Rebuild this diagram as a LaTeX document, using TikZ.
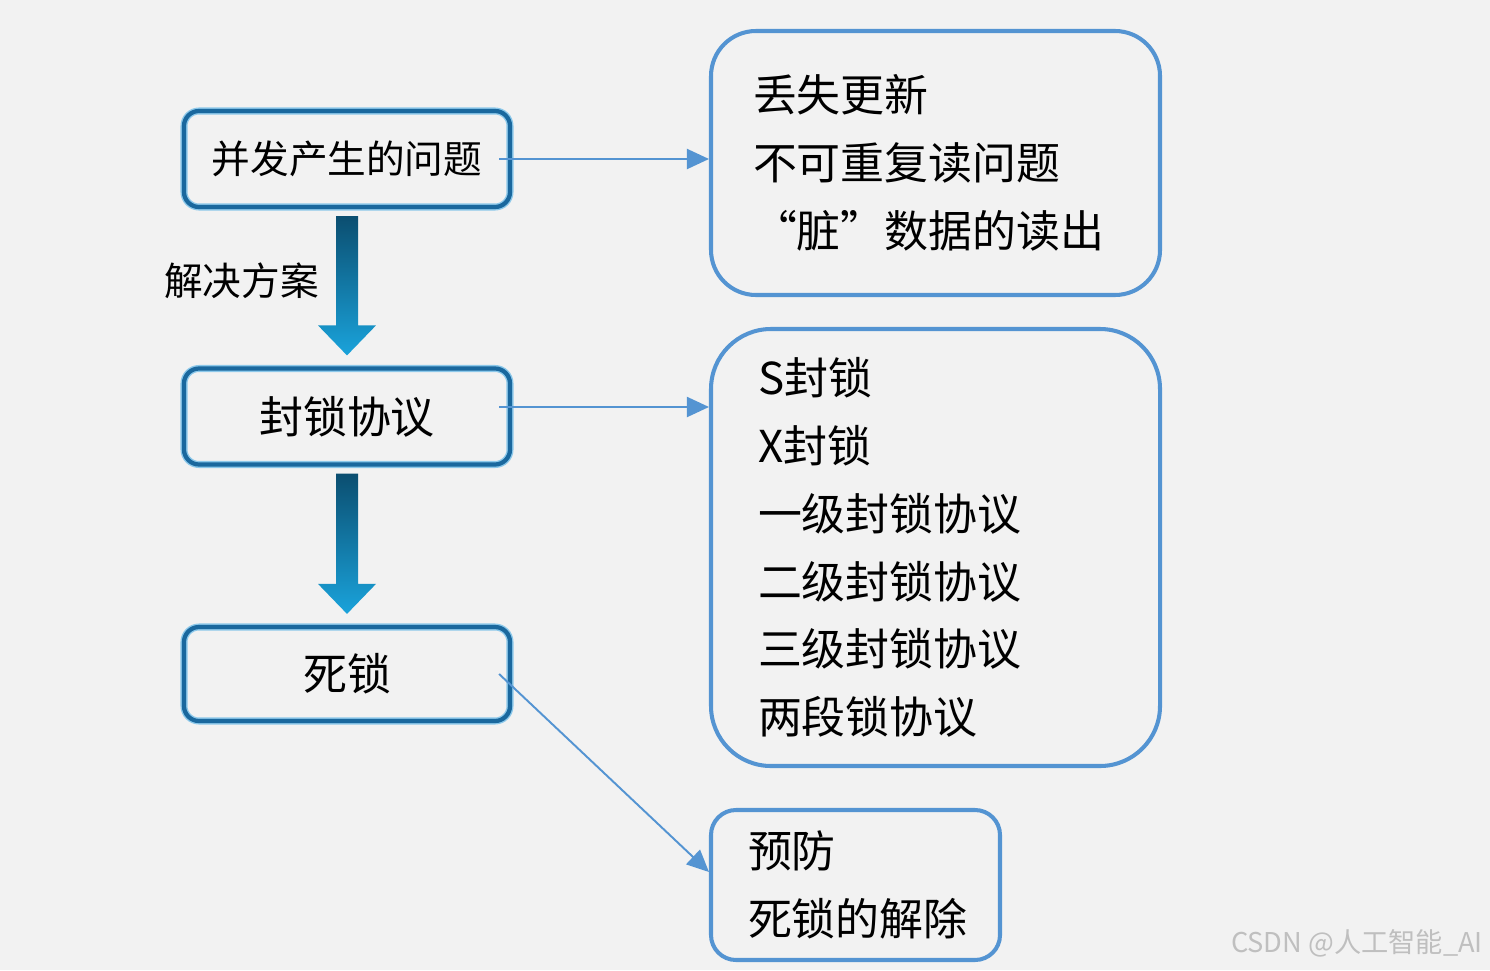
\documentclass[tikz,border=0pt]{standalone}
\usepackage{fontspec}
\setmainfont{Noto Sans CJK SC}
\newfontfamily\fullquote[CharacterWidth=Full]{Noto Sans CJK SC}
\usepackage{tikz}
\usetikzlibrary{arrows.meta, positioning, calc}
\definecolor{pagegray}{RGB}{242,242,242}
\definecolor{stepblue}{RGB}{26,104,158}
\definecolor{glowblue}{RGB}{140,200,234}
\definecolor{listblue}{RGB}{84,148,210}
\definecolor{arrowtop}{RGB}{11,78,112}
\definecolor{arrowbot}{RGB}{26,163,219}

% thick shaded arrow between two stacked boxes
\newcommand{\fatarrow}[2]{%
  \shade[top color=arrowtop, bottom color=arrowbot]
    ($(#1.south)+(-0.22,-0.14)$) -- ($(#2.north)+(-0.22,0.82)$)
    -- ($(#2.north)+(-0.58,0.82)$) -- ($(#2.north)+(0,0.22)$)
    -- ($(#2.north)+(0.58,0.82)$) -- ($(#2.north)+(0.22,0.82)$)
    -- ($(#1.south)+(0.22,-0.14)$) -- cycle;}

\begin{document}
\begin{tikzpicture}[
    stepbox/.style={rectangle, draw=stepblue, line width=2.4pt, rounded corners=0.3cm,
                    preaction={draw=glowblue, line width=4pt},
                    minimum width=6.52cm, minimum height=1.92cm, align=center},
    listbox/.style={rectangle, draw=listblue, line width=2.3pt, rounded corners=#1,
                    align=left, font=\fontsize{25pt}{38.6pt}\selectfont},
    link/.style={draw=listblue, line width=1.1pt, -{Triangle[length=0.44cm, width=0.4cm]}}
]
    % Background
    \fill[pagegray] (0,0) rectangle (29.8,-19.4);
    \useasboundingbox (0,0) rectangle (29.8,-19.4);

    % Left column
    \node[stepbox, font=\fontsize{22pt}{22pt}\selectfont] (issue) at (6.94,-3.18) {并发产生的问题};
    \node[stepbox, font=\fontsize{25pt}{25pt}\selectfont] (lock) at (6.94,-8.33) {封锁协议};
    \node[stepbox, font=\fontsize{25pt}{25pt}\selectfont, minimum height=1.88cm] (dead) at (6.94,-13.48) {死锁};

    % Right column
    \node[listbox=0.9cm, minimum height=5.28cm, text width=7.3cm, inner xsep=0.84cm] (issuelist) at (18.71,-3.26) {
        丢失更新\\
        不可重复读问题\\
        {\fullquote “}脏{\fullquote ”}数据的读出\\[-0.14cm]
    };
    \node[listbox=1.2cm, minimum height=8.74cm, text width=7.1cm, inner xsep=0.94cm] (locklist) at (18.71,-10.95) {
        S封锁\\
        X封锁\\
        一级封锁协议\\
        二级封锁协议\\
        三级封锁协议\\
        两段锁协议\\[-0.12cm]
    };
    \node[listbox=0.5cm, minimum height=3.0cm, text width=4.3cm, inner xsep=0.74cm] (deadlist) at (17.11,-17.70) {
        预防\\
        死锁的解除
    };

    % Shaded arrows
    \fatarrow{issue}{lock}
    \fatarrow{lock}{dead}
    \node[font=\fontsize{22pt}{22pt}\selectfont, anchor=east] (plan) at (6.5,-5.62) {解决方案};

    % Links
    \draw[link] ([xshift=-0.26cm]issue.east) -- (issue.east -| issuelist.west);
    \coordinate (lockout) at ([shift={(-0.26,0.19)}]lock.east);
    \draw[link] (lockout) -- (lockout -| locklist.west);
    \draw[link] ([xshift=-0.26cm]dead.east) -- ([yshift=0.26cm]deadlist.west);

    % Watermark
    \node[text=gray!50, font=\fontsize{15.5pt}{15.5pt}\selectfont] (watermark) at (27.14,-18.86) {CSDN @人工智能\_AI};
\end{tikzpicture}
\end{document}
